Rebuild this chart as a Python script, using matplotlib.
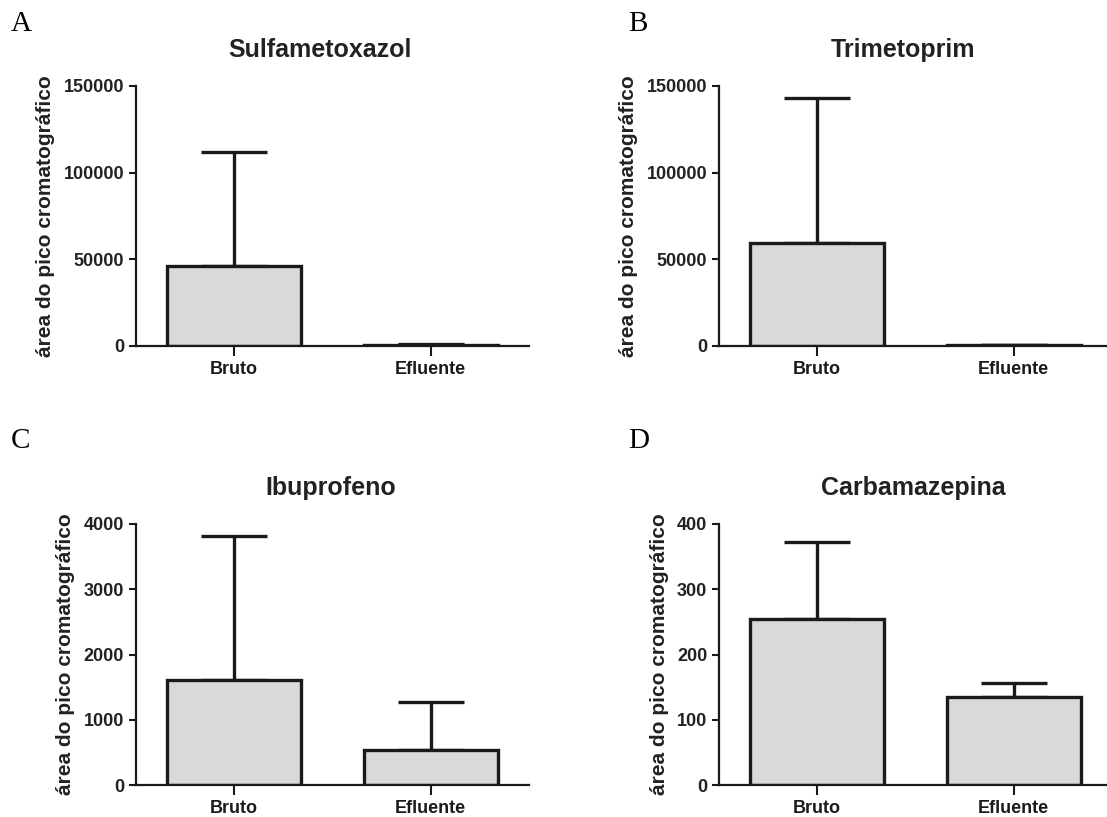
import numpy as np
import matplotlib
matplotlib.use("Agg")
import matplotlib.pyplot as plt

# Data (mean and upper error bar top)
groups = ["Bruto", "Efluente"]
titles = ["Sulfametoxazol", "Trimetoprim", "Ibuprofeno", "Carbamazepina"]
letters = ["A", "B", "C", "D"]

sulfa_mean = [46300, 800]
sulfa_top = [112100, 1250]
trime_mean = [59400, 300]
trime_top = [142900, 300]
ibu_mean = [1610, 537]
ibu_top = [3810, 1278]
carba_mean = [255, 134.5]
carba_top = [373, 156]

ymax = [150000, 150000, 4000, 400]
ystep = [50000, 50000, 1000, 100]

means = [sulfa_mean, trime_mean, ibu_mean, carba_mean]
tops = [sulfa_top, trime_top, ibu_top, carba_top]

plt.rcParams['font.family'] = ['Liberation Sans', 'DejaVu Sans']
plt.rcParams['font.weight'] = 'bold'

W, H = 1107, 817
fig = plt.figure(figsize=(W / 100, H / 100), dpi=100)

# axes boxes in pixels: left, top, bottom
boxes = [(136, 86, 346), (719, 86, 346), (136, 524, 785), (719, 524, 785)]
letter_pos = [(11, 31), (628, 31), (11, 448), (628, 448)]
title_shift = [-13, -12, -2, -2]
edge = '#1a1a1a'
ax_w = 0.355

for i in range(4):
    left, top, bottom = boxes[i]
    ax = fig.add_axes([left / W, 1 - bottom / H, ax_w, (bottom - top) / H])
    x = np.arange(len(groups))
    m = np.array(means[i])
    t = np.array(tops[i])
    err = np.clip(t - m, 0, None)
    ax.errorbar(x, m, yerr=[np.zeros_like(err), err], fmt='none',
                ecolor=edge, elinewidth=2.4, capsize=24, capthick=2.4, zorder=1)
    ax.bar(x, m, width=0.68, color='#d9d9d9', edgecolor=edge, linewidth=2.4, zorder=2)

    ax.set_xlim(-0.5, 1.5)
    ax.set_ylim(0, ymax[i])
    ax.set_yticks(np.arange(0, ymax[i] + 1, ystep[i]))
    ax.set_xticks(x)
    ax.set_xticklabels(groups, fontsize=13, fontweight='bold', color='#222222')
    ax.tick_params(axis='y', labelsize=13, length=5, width=1.5, colors=edge, labelcolor='#222222')
    ax.tick_params(axis='x', length=7, width=1.5, colors=edge, pad=4)
    for s in ['top', 'right']:
        ax.spines[s].set_visible(False)
    for s in ['left', 'bottom']:
        ax.spines[s].set_linewidth(1.6)
        ax.spines[s].set_color(edge)
    ax.set_ylabel("área do pico cromatográfico", fontsize=15, fontweight='bold',
                  color='#222222', labelpad=6)
    ax.set_title(titles[i], fontsize=18, fontweight='bold', color='#222222', pad=21,
                 x=0.5 + title_shift[i] / (ax_w * W))

    lx, ly = letter_pos[i]
    fig.text(lx / W, 1 - ly / H, letters[i], fontsize=21, fontweight='normal',
             family=['Liberation Serif', 'DejaVu Serif'], ha='left', va='baseline')

fig.savefig("out.png", dpi=100)
